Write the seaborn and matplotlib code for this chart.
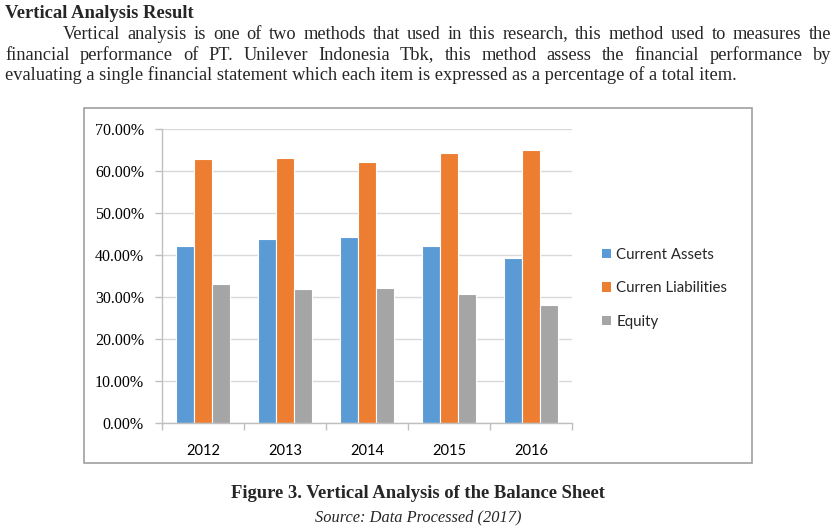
import numpy as np
import pandas as pd
import matplotlib.pyplot as plt
import seaborn as sns
from matplotlib.patches import Rectangle, Patch
from matplotlib.ticker import FuncFormatter, FixedLocator

# values (percent of total)
years = ["2012", "2013", "2014", "2015", "2016"]
current_assets = [42.1, 43.9, 44.4, 42.1, 39.4]
curren_liabilities = [62.9, 63.2, 62.1, 64.4, 65.1]
equity = [33.2, 31.9, 32.2, 30.7, 28.1]

series_names = ["Current Assets", "Curren Liabilities", "Equity"]
series_colors = ["#5B9BD5", "#ED7D31", "#A5A5A5"]

heading = "Vertical Analysis Result"
paragraph_lines = [
    "Vertical analysis is one of two methods that used in this research, this method used to measures the",
    "financial performance of PT. Unilever Indonesia Tbk, this method assess the financial performance by",
    "evaluating a single financial statement which each item is expressed as a percentage of a total item.",
]
caption = "Figure 3. Vertical Analysis of the Balance Sheet"
source = "Source: Data Processed (2017)"

W, H = 836, 532

df = pd.DataFrame({
    "Year": years * 3,
    "Value": current_assets + curren_liabilities + equity,
    "Item": [n for n in series_names for _ in years],
})

sns.set_theme(style="white")
plt.rcParams["font.family"] = ["Lato", "DejaVu Sans"]

fig = plt.figure(figsize=(W / 100, H / 100), dpi=100)
fig.patch.set_facecolor("white")


def fx(px):
    return px / W


def fy(py):
    return 1 - py / H


serif = ["Liberation Serif", "DejaVu Serif"]
body_size = 13.25

# heading (baseline positions in pixels)
fig.text(fx(5), fy(18.5), heading, family=serif, fontsize=13.4, fontweight="bold",
         ha="left", va="baseline")

# justified paragraph, word by word
renderer = fig.canvas.get_renderer()
line_specs = [(63, 831, 38.5, True), (5, 831, 59.5, True), (5, None, 80.5, False)]
for text, (x0, x1, y, justify) in zip(paragraph_lines, line_specs):
    words = text.split(" ")
    if not justify:
        fig.text(fx(x0), fy(y), text, family=serif, fontsize=body_size, ha="left", va="baseline")
        continue
    objs = [fig.text(0, fy(y), w, family=serif, fontsize=body_size, ha="left", va="baseline")
            for w in words]
    widths = [o.get_window_extent(renderer).width for o in objs]
    gap = (x1 - x0 - sum(widths)) / (len(words) - 1)
    x = x0
    for o, w in zip(objs, widths):
        o.set_x(fx(x))
        x += w + gap

# chart frame
fig.patches.append(Rectangle((fx(84), fy(463)), fx(752) - fx(84), fy(108) - fy(463),
                             transform=fig.transFigure, fill=False,
                             edgecolor="#a0a0a0", linewidth=1.2))

ax = fig.add_axes([fx(162), fy(423), fx(572) - fx(162), fy(129) - fy(423)])
sns.barplot(data=df, x="Year", y="Value", hue="Item", hue_order=series_names,
            palette=series_colors, width=0.66, edgecolor="white", linewidth=0.8,
            saturation=1, ax=ax)
ax.get_legend().remove()

ax.set_ylim(0, 70)
ax.set_xlim(-0.5, len(years) - 0.5)
ax.yaxis.set_major_locator(FixedLocator(np.arange(0, 71, 10)))
ax.yaxis.set_major_formatter(FuncFormatter(lambda v, p: f"{v:.2f}%"))
ax.yaxis.grid(True, color="#d9d9d9", linewidth=1)
ax.set_axisbelow(True)
ax.set_xlabel("")
ax.set_ylabel("")

for side in ["top", "right"]:
    ax.spines[side].set_visible(False)
for side in ["left", "bottom"]:
    ax.spines[side].set_color("#bfbfbf")
    ax.spines[side].set_linewidth(1)

ax.tick_params(axis="y", which="major", left=True, length=5, width=1, color="#bfbfbf",
               pad=8, labelsize=11.5, labelcolor="black")
for lbl in ax.get_yticklabels():
    lbl.set_family(serif)
ax.tick_params(axis="x", which="major", bottom=False, pad=9, labelsize=10.5, labelcolor="black")
ax.set_xticks(np.arange(-0.5, len(years), 1.0), minor=True)
ax.tick_params(axis="x", which="minor", bottom=True, length=5, width=1, color="#bfbfbf")

handles = [Patch(facecolor=c, edgecolor="none") for c in series_colors]
fig.legend(handles, series_names, loc="upper left",
           bbox_to_anchor=(fx(602), fy(248)), bbox_transform=fig.transFigure,
           frameon=False, fontsize=10.8, handlelength=0.6, handleheight=0.6,
           handletextpad=0.35, labelspacing=1.3, borderpad=0, borderaxespad=0)

# caption
fig.text(fx(418), fy(497.5), caption, family=serif, fontsize=13.4, fontweight="bold",
         ha="center", va="baseline")
fig.text(fx(418), fy(521.5), source, family=serif, fontsize=11.8, style="italic",
         ha="center", va="baseline")

fig.savefig("out.png", dpi=100)
plt.close(fig)
